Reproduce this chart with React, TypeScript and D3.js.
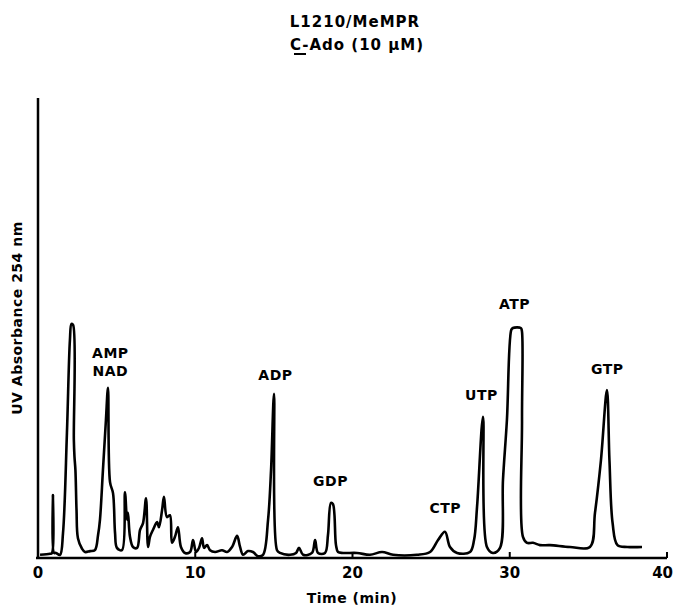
import * as d3 from 'd3'
import React from 'react'

// chromatogram trace: time (min) and UV absorbance (arbitrary units)
const traceTime = [
  0.13, 0.76, 0.89, 0.95, 1.02, 1.14, 1.4, 1.59, 1.84, 2.03, 2.13, 2.23, 2.28, 2.32, 2.38, 2.45,
  2.54, 2.8, 2.99, 3.31, 3.62, 3.82, 3.94, 4.13, 4.32, 4.45, 4.58, 4.77, 4.9, 5.02, 5.34, 5.53,
  5.66, 5.72, 5.85, 6.04, 6.3, 6.49, 6.68, 6.87, 7.0, 7.12, 7.31, 7.57, 7.69, 7.89, 8.01, 8.2,
  8.39, 8.52, 8.71, 8.9, 9.09, 9.35, 9.67, 9.86, 10.05, 10.24, 10.43, 10.56, 10.75, 10.94, 11.26,
  11.7, 12.02, 12.34, 12.66, 12.85, 13.04, 13.35, 13.67, 13.99, 14.31, 14.63, 14.82, 15.01, 15.2,
  15.39, 16.03, 16.41, 16.6, 16.86, 17.42, 17.62, 17.81, 18.25, 18.44, 18.63, 18.76, 18.95, 19.08,
  19.4, 20.29, 21.11, 21.88, 22.58, 24.1, 24.93, 25.44, 25.88, 26.2, 26.65, 27.47, 27.73, 27.92,
  28.3, 28.55, 28.93, 29.38, 29.57, 29.82, 30.1, 30.2, 30.7, 30.77, 30.78, 30.84, 31.1, 31.48,
  31.92, 32.56, 33.83, 35.1, 35.42, 35.8, 36.18, 36.34, 36.54, 36.85, 37.48, 38.41
]
const traceAbs = [
  0.7, 0.9, 1.1, 13.7, 1.1, 1.1, 0.7, 5.4, 27.2, 47.4, 50.9, 50.7, 25.7, 22.0, 19.1, 10.4,
  4.3, 2.0, 1.3, 1.5, 1.7, 5.0, 8.3, 19.1, 30.0, 37.0, 16.5, 14.1, 5.4, 2.2, 1.7, 14.3,
  8.3, 9.8, 4.6, 2.4, 2.2, 6.1, 7.6, 13.0, 2.4, 4.6, 6.1, 7.8, 6.7, 10.4, 13.3, 8.9,
  9.3, 3.3, 4.6, 6.7, 2.4, 1.1, 1.3, 3.9, 1.3, 2.2, 4.3, 2.2, 2.8, 1.7, 1.3,
  1.7, 1.3, 2.4, 4.8, 2.4, 0.7, 1.5, 1.3, 0.4, 0.7, 8.3, 19.1, 35.7, 1.7,
  1.1, 0.7, 1.1, 2.2, 0.7, 1.1, 3.9, 1.1, 1.1, 5.0, 12.0, 11.7, 2.8, 1.3,
  1.1, 1.1, 0.7, 1.3, 0.7, 0.7, 1.3, 3.9, 5.7, 2.4, 1.1, 1.3, 3.9, 11.1,
  30.7, 2.4, 1.1, 2.2, 17.0, 30.0, 49.6, 50.0, 50.0, 49.4, 30.0, 4.6, 3.3, 3.3,
  2.8, 2.8, 2.4, 2.4, 9.8, 21.3, 36.5, 21.3, 7.6, 2.8, 2.4, 2.4
]

const peakNames = ['AMP', 'NAD', 'ADP', 'GDP', 'CTP', 'UTP', 'ATP', 'GTP']
const peakTimes = [4.6, 4.6, 15.1, 18.6, 25.9, 28.2, 30.3, 36.2]
const peakLevels = [43.5, 39.5, 38.7, 15.6, 9.7, 34.3, 54.2, 40.0]

const xTicks = [0, 10, 20, 30, 40]

const W = 675
const H = 607
const font = "'DejaVu Sans', sans-serif"

export default function App() {
  const x = d3.scaleLinear().domain([0, 40]).range([38, 667])
  const y = d3.scaleLinear().domain([0, 100]).range([558, 98])

  const pts: [number, number][] = traceTime.map((t, i) => [t, traceAbs[i]])
  const line = d3
    .line<[number, number]>()
    .x(d => x(d[0]))
    .y(d => y(d[1]))
    .curve(d3.curveCatmullRom.alpha(0.5))

  return (
    <svg width={W} height={H} style={{ position: 'absolute', left: 0, top: 0, background: '#fff' }}>
      {/* title */}
      <g fontFamily={font} fontWeight="bold" fontSize={15} textAnchor="middle" fill="#000" letterSpacing={1}>
        <text x={355} y={27}>L1210/MeMPR</text>
        <text x={357} y={50}>C-Ado (10 µM)</text>
        <line x1={294} x2={306} y1={54} y2={54} stroke="#000" strokeWidth={2} />
      </g>

      {/* axes */}
      <line x1={x(0)} x2={x(0)} y1={y(100)} y2={y(0)} stroke="#000" strokeWidth={2.5} />
      <line x1={36} x2={x(40)} y1={y(0)} y2={y(0)} stroke="#000" strokeWidth={2.5} />
      {xTicks.map((t, i) => (
        <g key={t}>
          <line x1={x(t)} x2={x(t)} y1={y(0)} y2={y(0) - 6} stroke="#000" strokeWidth={2} />
          <text
            x={i === xTicks.length - 1 ? 673 : x(t)}
            y={578}
            textAnchor={i === xTicks.length - 1 ? 'end' : 'middle'}
            fontFamily={font}
            fontWeight="bold"
            fontSize={15}
          >
            {t}
          </text>
        </g>
      ))}
      <text x={352} y={603} textAnchor="middle" fontFamily={font} fontWeight="bold" fontSize={14} letterSpacing={0.5}>
        Time (min)
      </text>
      <text
        transform="translate(22,318) rotate(-90)"
        textAnchor="middle"
        fontFamily={font}
        fontWeight="bold"
        fontSize={14}
        letterSpacing={0.5}
      >
        UV Absorbance 254 nm
      </text>

      {/* trace */}
      <path d={line(pts) ?? ''} fill="none" stroke="#000" strokeWidth={2.6} strokeLinejoin="round" />

      {/* peak labels */}
      {peakNames.map((n, i) => (
        <text
          key={n}
          x={x(peakTimes[i])}
          y={y(peakLevels[i])}
          textAnchor="middle"
          fontFamily={font}
          fontWeight="bold"
          fontSize={14}
          letterSpacing={0.5}
        >
          {n}
        </text>
      ))}
    </svg>
  )
}
